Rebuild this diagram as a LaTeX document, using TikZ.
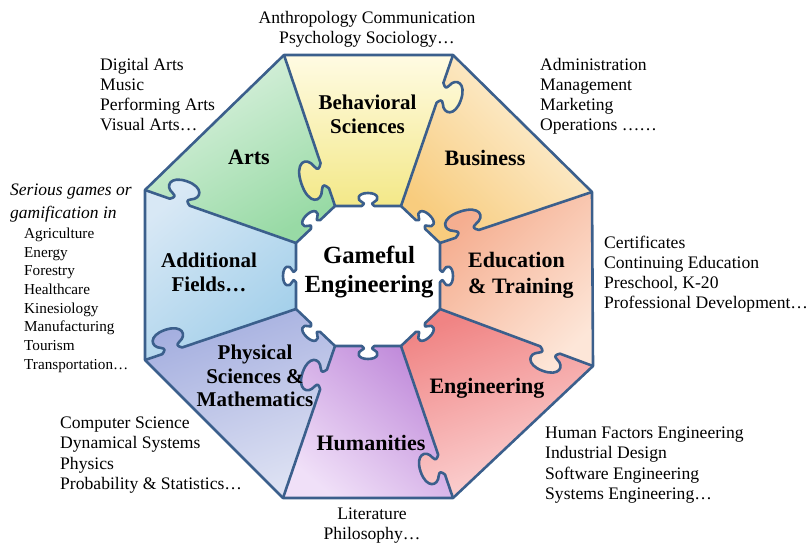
\documentclass[tikz,border=0pt]{standalone}
\usepackage{fontspec}
\setmainfont{Liberation Serif}
\usetikzlibrary{calc}
\definecolor{edgec}{HTML}{3B5F8C}
\definecolor{artsA}{HTML}{DDF2E1}\definecolor{artsB}{HTML}{98DAA5}
\definecolor{behA}{HTML}{FFFBE3}\definecolor{behB}{HTML}{F3E888}
\definecolor{busA}{HTML}{FDF3DE}\definecolor{busB}{HTML}{F8CC7E}
\definecolor{eduA}{HTML}{F5AE90}\definecolor{eduB}{HTML}{FDE6D8}
\definecolor{engA}{HTML}{F08484}\definecolor{engB}{HTML}{FCD8D8}
\definecolor{humA}{HTML}{C08ADA}\definecolor{humB}{HTML}{F0E0F8}
\definecolor{phyA}{HTML}{A4AEDF}\definecolor{phyB}{HTML}{DEE2F3}
\definecolor{addA}{HTML}{D8E8F5}\definecolor{addB}{HTML}{A2CFEA}
\tikzset{
  tab/.style n args={3}{to path={
    let \p1=(\tikztostart), \p2=(\tikztotarget), \n1={atan2(\y2-\y1,\x2-\x1)} in
    {[shift={($(\p1)!#1!(\p2)$)}, rotate=\n1, xscale=#2, yscale=#3]
      -- (-7,0) .. controls (-4.5,3) and (-3.5,5) .. (-6.5,7.5)
      .. controls (-13,12) and (-12,26) .. (0,26)
      .. controls (12,26) and (13,12) .. (6.5,7.5)
      .. controls (3.5,5) and (4.5,3) .. (7,0)}
    -- (\p2)}},
  grad/.style n args={3}{top color=#1, bottom color=#2, shading angle=#3},
  outline/.style={draw=edgec, line width=2.6pt, line join=round},
  lbl/.style={font=\bfseries\fontsize{22}{23.5}\selectfont, align=center, inner sep=0pt},
  lbls/.style={font=\bfseries\fontsize{21}{23.5}\selectfont, align=center, inner sep=0pt},
  lst/.style={font=\fontsize{17.6}{20.2}\selectfont, align=left, inner sep=0pt, anchor=north west},
  lstc/.style={font=\fontsize{17.6}{20.4}\selectfont, align=center, inner sep=0pt, anchor=north},
}
\begin{document}
\begin{tikzpicture}[x=1pt,y=-1pt]
\useasboundingbox (0,0) rectangle (810,544);
% outer vertices
\coordinate (O1) at (284,55);  \coordinate (O2) at (453,55);
\coordinate (O3) at (592,192); \coordinate (O4) at (593,366);
\coordinate (O5) at (453,498); \coordinate (O6) at (283,498);
\coordinate (O7) at (145,360); \coordinate (O8) at (145,190);
% inner vertices
\coordinate (I1) at (335,206); \coordinate (I2) at (401,206);
\coordinate (I3) at (440,243); \coordinate (I4) at (440,309);
\coordinate (I5) at (401,346); \coordinate (I6) at (335,346);
\coordinate (I7) at (296,309); \coordinate (I8) at (296,243);
% sector fills (order so tabs lie on top)
\shade[grad={artsA}{artsB}{30}] (O8) -- (O1) -- (I1) -- (I8) -- cycle;
\shade[grad={busA}{busB}{-45}] (O2) -- (O3) -- (I3) -- (I2) -- cycle;
\shade[grad={addA}{addB}{40}] (O7) -- (O8) to[tab={0.23}{1.5}{-0.85}] (I8) -- (I7) -- cycle;
\shade[grad={phyA}{phyB}{20}] (O6) -- (O7) to[tab={0.18}{1.5}{-0.85}] (I7) -- (I6) -- cycle;
\shade[grad={humA}{humB}{-40}] (O5) -- (O6) to[tab={0.78}{1.5}{-0.85}] (I6) -- (I5) -- cycle;
\shade[grad={engA}{engB}{20}] (O4) -- (O5) to[tab={0.22}{1.5}{-0.85}] (I5) -- (I4) -- cycle;
\shade[grad={eduA}{eduB}{45}] (I3) to[tab={0.18}{1.75}{-0.9}] (O3) -- (O4) to[tab={0.28}{1.5}{-0.85}] (I4) -- cycle;
\shade[grad={behA}{behB}{0}] (O1) -- (O2) to[tab={0.25}{1.5}{-0.85}] (I2) -- (I1) to[tab={0.2}{1.9}{-0.95}] (O1) -- cycle;
% outlines
\draw[outline] (O1) -- (O2) -- (O3) -- (O4) -- (O5) -- (O6) -- (O7) -- (O8) -- cycle;
\draw[outline] (O1) to[tab={0.8}{1.9}{0.95}] (I1);
\draw[outline] (O2) to[tab={0.25}{1.5}{-0.85}] (I2);
\draw[outline] (O3) to[tab={0.82}{1.75}{0.9}] (I3);
\draw[outline] (O4) to[tab={0.28}{1.5}{-0.85}] (I4);
\draw[outline] (O5) to[tab={0.22}{1.5}{-0.85}] (I5);
\draw[outline] (O6) to[tab={0.78}{1.5}{-0.85}] (I6);
\draw[outline] (O7) to[tab={0.18}{1.5}{-0.85}] (I7);
\draw[outline] (O8) to[tab={0.23}{1.5}{-0.85}] (I8);
% center piece
\draw[outline, fill=white] (I1) to[tab={0.5}{0.9}{-0.5}] (I2) to[tab={0.5}{0.9}{-0.5}] (I3)
  to[tab={0.5}{0.9}{-0.5}] (I4) to[tab={0.5}{0.9}{-0.5}] (I5) to[tab={0.5}{0.9}{-0.5}] (I6)
  to[tab={0.5}{0.9}{-0.5}] (I7) to[tab={0.5}{0.9}{-0.5}] (I8) to[tab={0.5}{0.9}{-0.5}] (I1) -- cycle;
% sector labels
\node[lbl] (arts) at (249,157) {Arts};
\node[lbls] (beh) at (367.5,114.5) {Behavioral\\Sciences};
\node[lbl] (bus) at (485,158) {Business};
\node[lbl, align=left, anchor=west, font=\bfseries\fontsize{22}{26}\selectfont] (edu) at (468,275) {Education\\\& Training};
\node[lbl] (eng) at (487,388) {Engineering};
\node[lbl] (hum) at (371,443) {Humanities};
\node[lbls] (phy) at (255,376) {Physical\\Sciences \&\\Mathematics};
\node[lbls] (add) at (209,272.5) {Additional\\Fields…};
\node[lbl, font=\bfseries\fontsize{24.7}{29}\selectfont] (gam) at (369,272) {Gameful\\Engineering};
% field lists
\node[lstc] (behlist) at (367,10.8) {Anthropology Communication\\Psychology Sociology…};
\node[lst] (artslist) at (100,57.8) {Digital Arts\\Music\\Performing Arts\\Visual Arts…};
\node[lst] (buslist) at (540,57.8) {Administration\\Management\\Marketing\\Operations ……};
\node[lst] (edulist) at (604,235.8) {Certificates\\Continuing Education\\Preschool, K-20\\Professional Development…};
\node[lst] (englist) at (545,426.8) {Human Factors Engineering\\Industrial Design\\Software Engineering\\Systems Engineering…};
\node[lst] (phylist) at (60,416.8) {Computer Science\\Dynamical Systems\\Physics\\Probability \& Statistics…};
\node[lstc] (humlist) at (372,507.5) {Literature\\Philosophy…};
\node[lst, font=\itshape\fontsize{17.5}{23}\selectfont] (addhead) at (10,183.8) {Serious games or\\gamification in};
\node[lst, font=\fontsize{15.2}{18.7}\selectfont] (addlist) at (24,227.7) {Agriculture\\Energy\\Forestry\\Healthcare\\Kinesiology\\Manufacturing\\Tourism\\Transportation…};
\end{tikzpicture}
\end{document}
